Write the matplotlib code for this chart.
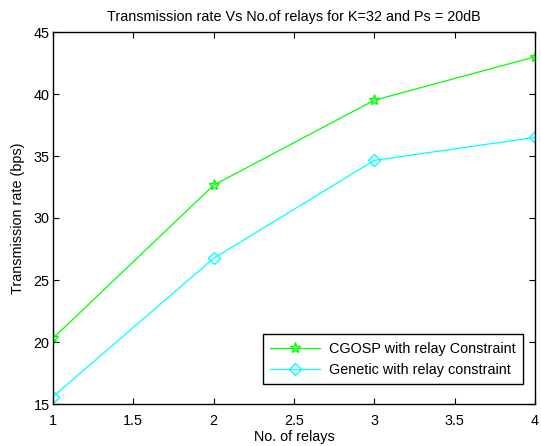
import matplotlib
matplotlib.use("Agg")
import matplotlib.pyplot as plt

relays = [1, 2, 3, 4]
cgosp = [20.3, 32.65, 39.5, 43.0]
genetic = [15.6, 26.75, 34.65, 36.5]
xticks = [1, 1.5, 2, 2.5, 3, 3.5, 4]
yticks = [15, 20, 25, 30, 35, 40, 45]

plt.rcParams['font.family'] = ['Liberation Sans', 'DejaVu Sans']
plt.rcParams['font.size'] = 10.4

fig = plt.figure(figsize=(5.41, 4.46), dpi=100)
ax = fig.add_axes([53/541, 1-404/446, (535-53)/541, (404-32)/446])

ax.plot(relays, cgosp, color='#00ff00', marker='*', markersize=8, markerfacecolor='none',
        markeredgecolor='#00ff00', linewidth=0.9, label='CGOSP with relay Constraint')
ax.plot(relays, genetic, color='#00ffff', marker='D', markersize=6, markerfacecolor='none',
        markeredgecolor='#00ffff', linewidth=0.9, label='Genetic with relay constraint')

ax.set_xlim(1, 4)
ax.set_ylim(15, 45)
ax.set_xticks(xticks)
ax.set_xticklabels(['1', '1.5', '2', '2.5', '3', '3.5', '4'])
ax.set_yticks(yticks)
ax.tick_params(direction='in', top=True, right=True, length=4, width=0.8)
ax.tick_params(axis='x', pad=7)
ax.tick_params(axis='y', pad=2.5)
for s in ax.spines.values():
    s.set_linewidth(1.0)

ax.set_xlabel('No. of relays', labelpad=1.5)
ax.set_ylabel('Transmission rate (bps)', labelpad=6)
ax.set_title('Transmission rate Vs No.of relays for K=32 and Ps = 20dB', fontsize=10.4, pad=8)

leg = ax.legend(loc='lower right', bbox_to_anchor=(523/541, 1-384/446), bbox_transform=fig.transFigure,
                fancybox=False, framealpha=1, edgecolor='black', borderaxespad=0,
                handlelength=3.5, handletextpad=0.6, borderpad=0.5, labelspacing=0.5)
leg.get_frame().set_linewidth(1.0)

fig.savefig('out.png', dpi=100)
